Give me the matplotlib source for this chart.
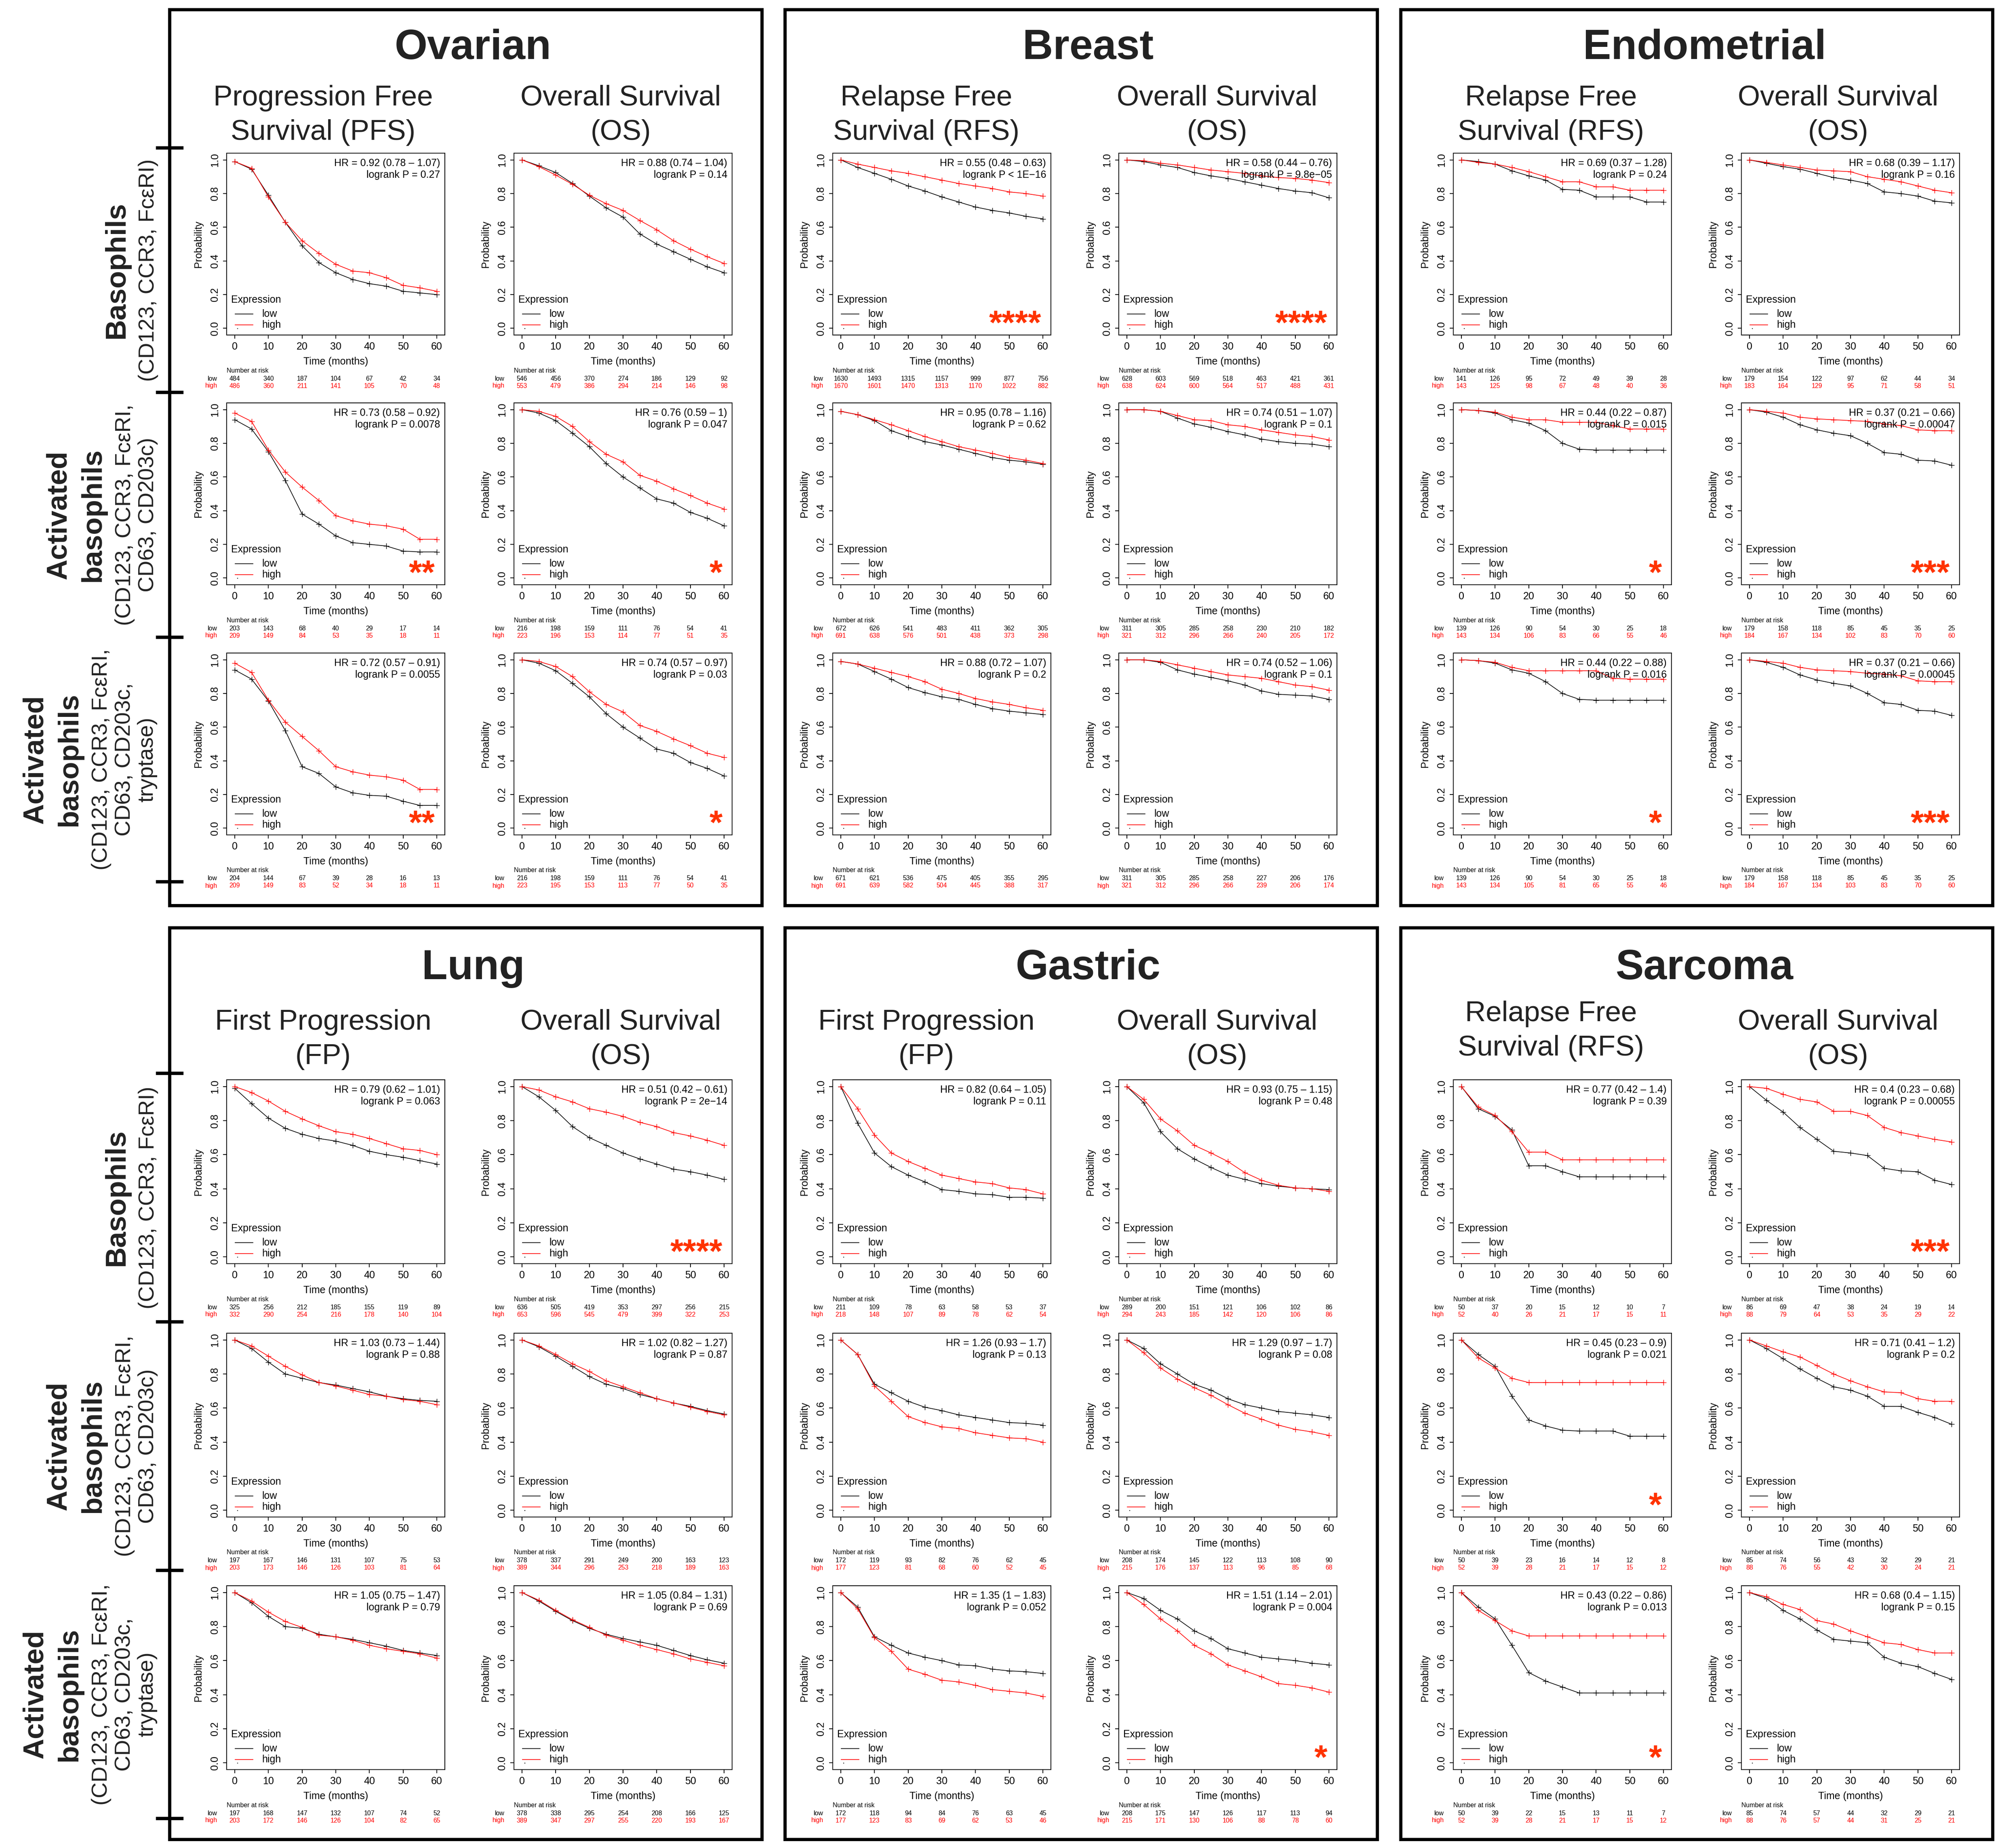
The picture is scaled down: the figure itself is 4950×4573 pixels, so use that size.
import matplotlib
matplotlib.use("Agg")
import matplotlib.pyplot as plt
from matplotlib import transforms
from matplotlib.patches import Rectangle
from matplotlib.lines import Line2D

plt.rcParams["font.family"] = ["Liberation Sans", "DejaVu Sans"]

# ----------------------------------------------------------------- data
MONTHS = [0, 5, 10, 15, 20, 25, 30, 35, 40, 45, 50, 55, 60]
RISK_MONTHS = [0, 10, 20, 30, 40, 50, 60]
Y_TICKS = [0.0, 0.2, 0.4, 0.6, 0.8, 1.0]
X_TICKS = [0, 10, 20, 30, 40, 50, 60]

CANCERS = ["Ovarian", "Breast", "Endometrial", "Lung", "Gastric", "Sarcoma"]
ENDPOINTS = [
    ["Progression Free\nSurvival (PFS)", "Overall Survival\n(OS)"],
    ["Relapse Free\nSurvival (RFS)", "Overall Survival\n(OS)"],
    ["Relapse Free\nSurvival (RFS)", "Overall Survival\n(OS)"],
    ["First Progression\n(FP)", "Overall Survival\n(OS)"],
    ["First Progression\n(FP)", "Overall Survival\n(OS)"],
    ["Relapse Free\nSurvival (RFS)", "Overall Survival\n(OS)"],
]
ROW_LABEL_BOLD = ["Basophils", "Activated\nbasophils", "Activated\nbasophils"]
ROW_LABEL_MARKERS = ["(CD123, CCR3, FcεRI)",
                     "(CD123, CCR3, FcεRI,\nCD63, CD203c)",
                     "(CD123, CCR3, FcεRI,\nCD63, CD203c,\ntryptase)"]

# --- Ovarian PFS
ov_pfs_hr = ["HR = 0.92 (0.78 – 1.07)", "HR = 0.73 (0.58 – 0.92)", "HR = 0.72 (0.57 – 0.91)"]
ov_pfs_p = ["logrank P = 0.27", "logrank P = 0.0078", "logrank P = 0.0055"]
ov_pfs_stars = ["", "**", "**"]
ov_pfs_risk_low = [[484, 340, 187, 104, 67, 42, 34], [203, 143, 68, 40, 29, 17, 14], [204, 144, 67, 39, 28, 16, 13]]
ov_pfs_risk_high = [[486, 360, 211, 141, 105, 70, 48], [209, 149, 84, 53, 35, 18, 11], [209, 149, 83, 52, 34, 18, 11]]
ov_pfs_surv_low = [
    [0.99, 0.945, 0.79, 0.63, 0.49, 0.39, 0.33, 0.29, 0.265, 0.25, 0.22, 0.21, 0.20],
    [0.94, 0.885, 0.75, 0.58, 0.38, 0.32, 0.25, 0.21, 0.20, 0.19, 0.16, 0.155, 0.155],
    [0.94, 0.885, 0.755, 0.58, 0.365, 0.325, 0.245, 0.21, 0.195, 0.19, 0.16, 0.135, 0.135]]
ov_pfs_surv_high = [
    [0.99, 0.95, 0.78, 0.63, 0.52, 0.445, 0.38, 0.34, 0.33, 0.30, 0.255, 0.24, 0.22],
    [0.98, 0.93, 0.76, 0.63, 0.54, 0.46, 0.37, 0.34, 0.32, 0.31, 0.29, 0.23, 0.23],
    [0.98, 0.925, 0.76, 0.63, 0.545, 0.46, 0.365, 0.335, 0.315, 0.305, 0.285, 0.23, 0.23]]

# --- Ovarian OS
ov_os_hr = ["HR = 0.88 (0.74 – 1.04)", "HR = 0.76 (0.59 – 1)", "HR = 0.74 (0.57 – 0.97)"]
ov_os_p = ["logrank P = 0.14", "logrank P = 0.047", "logrank P = 0.03"]
ov_os_stars = ["", "*", "*"]
ov_os_risk_low = [[546, 456, 370, 274, 186, 129, 92], [216, 198, 159, 111, 76, 54, 41], [216, 198, 159, 111, 76, 54, 41]]
ov_os_risk_high = [[553, 479, 386, 294, 214, 146, 98], [223, 196, 153, 114, 77, 51, 35], [223, 195, 153, 113, 77, 50, 35]]
ov_os_surv_low = [
    [1.0, 0.965, 0.925, 0.86, 0.785, 0.715, 0.66, 0.56, 0.50, 0.455, 0.41, 0.365, 0.33],
    [1.0, 0.98, 0.935, 0.86, 0.78, 0.68, 0.60, 0.535, 0.47, 0.445, 0.39, 0.355, 0.31],
    [1.0, 0.98, 0.935, 0.86, 0.78, 0.68, 0.60, 0.535, 0.47, 0.445, 0.39, 0.355, 0.31]]
ov_os_surv_high = [
    [1.0, 0.96, 0.91, 0.855, 0.79, 0.74, 0.70, 0.64, 0.585, 0.52, 0.47, 0.425, 0.385],
    [1.0, 0.99, 0.96, 0.90, 0.81, 0.735, 0.69, 0.61, 0.575, 0.53, 0.49, 0.445, 0.41],
    [1.0, 0.99, 0.96, 0.90, 0.81, 0.735, 0.69, 0.61, 0.575, 0.53, 0.49, 0.445, 0.42]]

# --- Breast RFS
br_rfs_hr = ["HR = 0.55 (0.48 – 0.63)", "HR = 0.95 (0.78 – 1.16)", "HR = 0.88 (0.72 – 1.07)"]
br_rfs_p = ["logrank P < 1E−16", "logrank P = 0.62", "logrank P = 0.2"]
br_rfs_stars = ["****", "", ""]
br_rfs_risk_low = [[1630, 1493, 1315, 1157, 999, 877, 756], [672, 626, 541, 483, 411, 362, 305], [671, 621, 536, 475, 405, 355, 295]]
br_rfs_risk_high = [[1670, 1601, 1470, 1313, 1170, 1022, 882], [691, 638, 576, 501, 438, 373, 298], [691, 639, 582, 504, 445, 388, 317]]
br_rfs_surv_low = [
    [1.0, 0.955, 0.92, 0.885, 0.845, 0.815, 0.78, 0.75, 0.72, 0.70, 0.685, 0.665, 0.65],
    [0.99, 0.97, 0.935, 0.875, 0.84, 0.81, 0.79, 0.765, 0.74, 0.715, 0.70, 0.69, 0.675],
    [0.99, 0.975, 0.93, 0.885, 0.835, 0.805, 0.78, 0.765, 0.735, 0.71, 0.695, 0.685, 0.675]]
br_rfs_surv_high = [
    [1.0, 0.975, 0.955, 0.935, 0.92, 0.90, 0.88, 0.86, 0.845, 0.83, 0.81, 0.80, 0.785],
    [0.99, 0.97, 0.94, 0.91, 0.875, 0.84, 0.81, 0.78, 0.76, 0.74, 0.715, 0.70, 0.68],
    [0.99, 0.975, 0.95, 0.925, 0.90, 0.87, 0.825, 0.80, 0.77, 0.75, 0.735, 0.715, 0.70]]

# --- Breast OS
br_os_hr = ["HR = 0.58 (0.44 – 0.76)", "HR = 0.74 (0.51 – 1.07)", "HR = 0.74 (0.52 – 1.06)"]
br_os_p = ["logrank P = 9.8e−05", "logrank P = 0.1", "logrank P = 0.1"]
br_os_stars = ["****", "", ""]
br_os_risk_low = [[628, 603, 569, 518, 463, 421, 361], [311, 305, 285, 258, 230, 210, 182], [311, 305, 285, 258, 227, 206, 176]]
br_os_risk_high = [[638, 624, 600, 564, 517, 488, 431], [321, 312, 296, 266, 240, 205, 172], [321, 312, 296, 266, 239, 206, 174]]
br_os_surv_low = [
    [1.0, 0.99, 0.97, 0.955, 0.925, 0.905, 0.89, 0.87, 0.85, 0.83, 0.815, 0.805, 0.775],
    [1.0, 1.0, 0.99, 0.95, 0.915, 0.895, 0.87, 0.85, 0.825, 0.81, 0.80, 0.795, 0.78],
    [1.0, 1.0, 0.985, 0.94, 0.915, 0.895, 0.875, 0.85, 0.815, 0.795, 0.79, 0.785, 0.765]]
br_os_surv_high = [
    [1.0, 0.995, 0.98, 0.97, 0.955, 0.94, 0.93, 0.92, 0.905, 0.895, 0.89, 0.88, 0.865],
    [1.0, 1.0, 0.99, 0.965, 0.94, 0.935, 0.91, 0.90, 0.88, 0.865, 0.85, 0.84, 0.82],
    [1.0, 1.0, 0.99, 0.97, 0.95, 0.93, 0.91, 0.90, 0.89, 0.87, 0.85, 0.84, 0.82]]

# --- Endometrial RFS
en_rfs_hr = ["HR = 0.69 (0.37 – 1.28)", "HR = 0.44 (0.22 – 0.87)", "HR = 0.44 (0.22 – 0.88)"]
en_rfs_p = ["logrank P = 0.24", "logrank P = 0.015", "logrank P = 0.016"]
en_rfs_stars = ["", "*", "*"]
en_rfs_risk_low = [[141, 126, 95, 72, 49, 39, 28], [139, 126, 90, 54, 30, 25, 18], [139, 126, 90, 54, 30, 25, 18]]
en_rfs_risk_high = [[143, 125, 98, 67, 48, 40, 36], [143, 134, 106, 83, 66, 55, 46], [143, 134, 105, 81, 65, 55, 46]]
en_rfs_surv_low = [
    [1.0, 0.99, 0.975, 0.935, 0.905, 0.88, 0.825, 0.82, 0.78, 0.78, 0.78, 0.75, 0.75],
    [1.0, 0.995, 0.98, 0.94, 0.92, 0.875, 0.80, 0.765, 0.76, 0.76, 0.76, 0.76, 0.76],
    [1.0, 0.995, 0.98, 0.94, 0.92, 0.87, 0.80, 0.765, 0.76, 0.76, 0.76, 0.76, 0.76]]
en_rfs_surv_high = [
    [1.0, 0.985, 0.975, 0.955, 0.93, 0.90, 0.87, 0.87, 0.84, 0.84, 0.82, 0.82, 0.82],
    [1.0, 0.995, 0.985, 0.955, 0.94, 0.94, 0.925, 0.925, 0.925, 0.905, 0.885, 0.885, 0.885],
    [1.0, 0.995, 0.985, 0.955, 0.935, 0.935, 0.935, 0.935, 0.935, 0.89, 0.885, 0.885, 0.885]]

# --- Endometrial OS
en_os_hr = ["HR = 0.68 (0.39 – 1.17)", "HR = 0.37 (0.21 – 0.66)", "HR = 0.37 (0.21 – 0.66)"]
en_os_p = ["logrank P = 0.16", "logrank P = 0.00047", "logrank P = 0.00045"]
en_os_stars = ["", "***", "***"]
en_os_risk_low = [[179, 154, 122, 97, 62, 44, 34], [179, 158, 118, 85, 45, 35, 25], [179, 158, 118, 85, 45, 35, 25]]
en_os_risk_high = [[183, 164, 129, 95, 71, 58, 51], [184, 167, 134, 102, 83, 70, 60], [184, 167, 134, 103, 83, 70, 60]]
en_os_surv_low = [
    [1.0, 0.98, 0.96, 0.945, 0.92, 0.895, 0.88, 0.86, 0.81, 0.80, 0.785, 0.755, 0.745],
    [1.0, 0.985, 0.955, 0.91, 0.88, 0.86, 0.845, 0.80, 0.745, 0.735, 0.70, 0.695, 0.67],
    [1.0, 0.985, 0.955, 0.91, 0.88, 0.86, 0.845, 0.80, 0.745, 0.735, 0.70, 0.695, 0.67]]
en_os_surv_high = [
    [1.0, 0.985, 0.97, 0.955, 0.94, 0.935, 0.93, 0.90, 0.885, 0.87, 0.845, 0.82, 0.805],
    [1.0, 0.99, 0.98, 0.955, 0.945, 0.94, 0.935, 0.93, 0.915, 0.905, 0.88, 0.875, 0.875],
    [1.0, 0.99, 0.98, 0.955, 0.94, 0.935, 0.93, 0.92, 0.915, 0.905, 0.875, 0.87, 0.87]]

# --- Lung FP
lu_fp_hr = ["HR = 0.79 (0.62 – 1.01)", "HR = 1.03 (0.73 – 1.44)", "HR = 1.05 (0.75 – 1.47)"]
lu_fp_p = ["logrank P = 0.063", "logrank P = 0.88", "logrank P = 0.79"]
lu_fp_stars = ["", "", ""]
lu_fp_risk_low = [[325, 256, 212, 185, 155, 119, 89], [197, 167, 146, 131, 107, 75, 53], [197, 168, 147, 132, 107, 74, 52]]
lu_fp_risk_high = [[332, 290, 254, 216, 178, 140, 104], [203, 173, 146, 126, 103, 81, 64], [203, 172, 146, 126, 104, 82, 65]]
lu_fp_surv_low = [
    [0.99, 0.90, 0.815, 0.755, 0.72, 0.695, 0.68, 0.655, 0.62, 0.60, 0.585, 0.565, 0.545],
    [1.0, 0.95, 0.87, 0.80, 0.775, 0.75, 0.735, 0.715, 0.695, 0.67, 0.655, 0.645, 0.64],
    [1.0, 0.94, 0.86, 0.80, 0.79, 0.755, 0.74, 0.725, 0.705, 0.685, 0.66, 0.645, 0.63]]
lu_fp_surv_high = [
    [1.0, 0.965, 0.915, 0.855, 0.81, 0.77, 0.735, 0.72, 0.695, 0.665, 0.635, 0.625, 0.60],
    [1.0, 0.965, 0.905, 0.845, 0.795, 0.75, 0.73, 0.705, 0.68, 0.67, 0.65, 0.64, 0.62],
    [1.0, 0.95, 0.885, 0.83, 0.795, 0.75, 0.74, 0.72, 0.69, 0.67, 0.655, 0.64, 0.615]]

# --- Lung OS
lu_os_hr = ["HR = 0.51 (0.42 – 0.61)", "HR = 1.02 (0.82 – 1.27)", "HR = 1.05 (0.84 – 1.31)"]
lu_os_p = ["logrank P = 2e−14", "logrank P = 0.87", "logrank P = 0.69"]
lu_os_stars = ["****", "", ""]
lu_os_risk_low = [[636, 505, 419, 353, 297, 256, 215], [378, 337, 291, 249, 200, 163, 123], [378, 338, 295, 254, 208, 166, 125]]
lu_os_risk_high = [[653, 596, 545, 479, 399, 322, 253], [389, 344, 296, 253, 218, 189, 163], [389, 347, 297, 255, 220, 193, 167]]
lu_os_surv_low = [
    [1.0, 0.94, 0.86, 0.765, 0.70, 0.655, 0.61, 0.575, 0.545, 0.515, 0.50, 0.48, 0.455],
    [1.0, 0.96, 0.905, 0.845, 0.785, 0.74, 0.715, 0.68, 0.655, 0.63, 0.61, 0.585, 0.565],
    [1.0, 0.95, 0.89, 0.835, 0.79, 0.755, 0.73, 0.71, 0.69, 0.66, 0.63, 0.605, 0.585]]
lu_os_surv_high = [
    [1.0, 0.98, 0.94, 0.91, 0.87, 0.85, 0.825, 0.79, 0.765, 0.73, 0.71, 0.685, 0.655],
    [1.0, 0.965, 0.915, 0.86, 0.815, 0.76, 0.725, 0.69, 0.655, 0.63, 0.605, 0.58, 0.56],
    [1.0, 0.955, 0.895, 0.84, 0.795, 0.75, 0.72, 0.69, 0.665, 0.64, 0.61, 0.59, 0.57]]

# --- Gastric FP
ga_fp_hr = ["HR = 0.82 (0.64 – 1.05)", "HR = 1.26 (0.93 – 1.7)", "HR = 1.35 (1 – 1.83)"]
ga_fp_p = ["logrank P = 0.11", "logrank P = 0.13", "logrank P = 0.052"]
ga_fp_stars = ["", "", ""]
ga_fp_risk_low = [[211, 109, 78, 63, 58, 53, 37], [172, 119, 93, 82, 76, 62, 45], [172, 118, 94, 84, 76, 63, 45]]
ga_fp_risk_high = [[218, 148, 107, 89, 78, 62, 54], [177, 123, 81, 68, 60, 52, 45], [177, 123, 83, 69, 62, 53, 46]]
ga_fp_surv_low = [
    [1.0, 0.785, 0.61, 0.53, 0.48, 0.44, 0.395, 0.385, 0.37, 0.365, 0.35, 0.35, 0.345],
    [1.0, 0.915, 0.74, 0.69, 0.64, 0.605, 0.585, 0.56, 0.545, 0.53, 0.515, 0.51, 0.50],
    [1.0, 0.915, 0.74, 0.69, 0.645, 0.62, 0.60, 0.575, 0.57, 0.55, 0.54, 0.535, 0.525]]
ga_fp_surv_high = [
    [1.0, 0.87, 0.715, 0.61, 0.56, 0.52, 0.48, 0.46, 0.44, 0.43, 0.405, 0.395, 0.37],
    [1.0, 0.915, 0.73, 0.64, 0.55, 0.515, 0.49, 0.48, 0.455, 0.44, 0.425, 0.42, 0.40],
    [1.0, 0.905, 0.735, 0.655, 0.55, 0.52, 0.485, 0.475, 0.455, 0.43, 0.42, 0.41, 0.39]]

# --- Gastric OS
ga_os_hr = ["HR = 0.93 (0.75 – 1.15)", "HR = 1.29 (0.97 – 1.7)", "HR = 1.51 (1.14 – 2.01)"]
ga_os_p = ["logrank P = 0.48", "logrank P = 0.08", "logrank P = 0.004"]
ga_os_stars = ["", "", "*"]
ga_os_risk_low = [[289, 200, 151, 121, 106, 102, 86], [208, 174, 145, 122, 113, 108, 90], [208, 175, 147, 126, 117, 113, 94]]
ga_os_risk_high = [[294, 243, 185, 142, 120, 106, 86], [215, 176, 137, 113, 96, 85, 68], [215, 171, 130, 106, 88, 78, 60]]
ga_os_surv_low = [
    [1.0, 0.905, 0.735, 0.635, 0.575, 0.525, 0.48, 0.455, 0.43, 0.415, 0.405, 0.40, 0.395],
    [1.0, 0.95, 0.86, 0.80, 0.74, 0.705, 0.655, 0.62, 0.60, 0.58, 0.57, 0.56, 0.545],
    [1.0, 0.965, 0.895, 0.845, 0.775, 0.73, 0.67, 0.645, 0.62, 0.61, 0.60, 0.585, 0.575]]
ga_os_surv_high = [
    [1.0, 0.925, 0.81, 0.74, 0.655, 0.61, 0.56, 0.495, 0.45, 0.42, 0.405, 0.40, 0.385],
    [1.0, 0.925, 0.835, 0.77, 0.72, 0.675, 0.62, 0.57, 0.535, 0.50, 0.475, 0.46, 0.44],
    [1.0, 0.93, 0.845, 0.775, 0.69, 0.64, 0.575, 0.54, 0.505, 0.465, 0.455, 0.44, 0.415]]

# --- Sarcoma RFS
sa_rfs_hr = ["HR = 0.77 (0.42 – 1.4)", "HR = 0.45 (0.23 – 0.9)", "HR = 0.43 (0.22 – 0.86)"]
sa_rfs_p = ["logrank P = 0.39", "logrank P = 0.021", "logrank P = 0.013"]
sa_rfs_stars = ["", "*", "*"]
sa_rfs_risk_low = [[50, 37, 20, 15, 12, 10, 7], [50, 39, 23, 16, 14, 12, 8], [50, 39, 22, 15, 13, 11, 7]]
sa_rfs_risk_high = [[52, 40, 26, 21, 17, 15, 11], [52, 39, 28, 21, 17, 15, 12], [52, 39, 28, 21, 17, 15, 12]]
sa_rfs_surv_low = [
    [1.0, 0.87, 0.825, 0.745, 0.535, 0.535, 0.50, 0.47, 0.47, 0.47, 0.47, 0.47, 0.47],
    [1.0, 0.915, 0.845, 0.67, 0.53, 0.495, 0.47, 0.465, 0.465, 0.465, 0.435, 0.435, 0.435],
    [1.0, 0.915, 0.845, 0.69, 0.53, 0.48, 0.445, 0.41, 0.41, 0.41, 0.41, 0.41, 0.41]]
sa_rfs_surv_high = [
    [1.0, 0.88, 0.83, 0.735, 0.615, 0.615, 0.57, 0.57, 0.57, 0.57, 0.57, 0.57, 0.57],
    [1.0, 0.895, 0.835, 0.775, 0.75, 0.75, 0.75, 0.75, 0.75, 0.75, 0.75, 0.75, 0.75],
    [1.0, 0.895, 0.835, 0.775, 0.745, 0.745, 0.745, 0.745, 0.745, 0.745, 0.745, 0.745, 0.745]]

# --- Sarcoma OS
sa_os_hr = ["HR = 0.4 (0.23 – 0.68)", "HR = 0.71 (0.41 – 1.2)", "HR = 0.68 (0.4 – 1.15)"]
sa_os_p = ["logrank P = 0.00055", "logrank P = 0.2", "logrank P = 0.15"]
sa_os_stars = ["***", "", ""]
sa_os_risk_low = [[86, 69, 47, 38, 24, 19, 14], [85, 74, 56, 43, 32, 29, 21], [85, 74, 57, 44, 32, 29, 21]]
sa_os_risk_high = [[88, 79, 64, 53, 35, 29, 22], [88, 76, 55, 42, 30, 24, 21], [88, 76, 57, 44, 31, 25, 21]]
sa_os_surv_low = [
    [1.0, 0.92, 0.85, 0.76, 0.69, 0.62, 0.61, 0.595, 0.52, 0.505, 0.50, 0.45, 0.425],
    [1.0, 0.95, 0.89, 0.83, 0.775, 0.725, 0.705, 0.67, 0.61, 0.61, 0.575, 0.545, 0.505],
    [1.0, 0.965, 0.895, 0.845, 0.78, 0.725, 0.715, 0.705, 0.62, 0.585, 0.565, 0.525, 0.49]]
sa_os_surv_high = [
    [1.0, 0.99, 0.955, 0.925, 0.91, 0.855, 0.855, 0.83, 0.76, 0.73, 0.71, 0.69, 0.675],
    [1.0, 0.965, 0.93, 0.90, 0.85, 0.80, 0.76, 0.725, 0.695, 0.69, 0.655, 0.64, 0.64],
    [1.0, 0.975, 0.93, 0.90, 0.835, 0.815, 0.775, 0.74, 0.705, 0.695, 0.665, 0.645, 0.645]]

SERIES = {
    (0, 0): (ov_pfs_hr, ov_pfs_p, ov_pfs_stars, ov_pfs_risk_low, ov_pfs_risk_high, ov_pfs_surv_low, ov_pfs_surv_high),
    (0, 1): (ov_os_hr, ov_os_p, ov_os_stars, ov_os_risk_low, ov_os_risk_high, ov_os_surv_low, ov_os_surv_high),
    (1, 0): (br_rfs_hr, br_rfs_p, br_rfs_stars, br_rfs_risk_low, br_rfs_risk_high, br_rfs_surv_low, br_rfs_surv_high),
    (1, 1): (br_os_hr, br_os_p, br_os_stars, br_os_risk_low, br_os_risk_high, br_os_surv_low, br_os_surv_high),
    (2, 0): (en_rfs_hr, en_rfs_p, en_rfs_stars, en_rfs_risk_low, en_rfs_risk_high, en_rfs_surv_low, en_rfs_surv_high),
    (2, 1): (en_os_hr, en_os_p, en_os_stars, en_os_risk_low, en_os_risk_high, en_os_surv_low, en_os_surv_high),
    (3, 0): (lu_fp_hr, lu_fp_p, lu_fp_stars, lu_fp_risk_low, lu_fp_risk_high, lu_fp_surv_low, lu_fp_surv_high),
    (3, 1): (lu_os_hr, lu_os_p, lu_os_stars, lu_os_risk_low, lu_os_risk_high, lu_os_surv_low, lu_os_surv_high),
    (4, 0): (ga_fp_hr, ga_fp_p, ga_fp_stars, ga_fp_risk_low, ga_fp_risk_high, ga_fp_surv_low, ga_fp_surv_high),
    (4, 1): (ga_os_hr, ga_os_p, ga_os_stars, ga_os_risk_low, ga_os_risk_high, ga_os_surv_low, ga_os_surv_high),
    (5, 0): (sa_rfs_hr, sa_rfs_p, sa_rfs_stars, sa_rfs_risk_low, sa_rfs_risk_high, sa_rfs_surv_low, sa_rfs_surv_high),
    (5, 1): (sa_os_hr, sa_os_p, sa_os_stars, sa_os_risk_low, sa_os_risk_high, sa_os_surv_low, sa_os_surv_high),
}

# ----------------------------------------------------------------- layout (pixels)
W, H, DPI = 4950, 4573, 300
BOX_X = [(420, 1886), (1943, 3409), (3467, 4932)]
BOX_Y = [(24, 2241), (2296, 4552)]
AX_X = [(561, 1272), (2061, 2769), (3597, 4310)]
AX_W = 540
AX_TOPS = [(379, 997, 1616), (2672, 3299, 3924)]
AX_H = [450, 455]
TITLE_X = [1171, 2693, 4219]
TITLE_Y = [109, 2386]
SUB_X = [(800, 1536), (2293, 3012), (3839, 4549)]
SUB_Y = [236, 2523]          # centre of the first subtitle line
SUB_Y_RAISED = 2502
BRACKET_Y = [(366, 971, 1577, 2182), (2656, 3271, 3886, 4500)]
LABEL_LAST_X = 362.0          # centre of the rightmost label line
BOLD_TO_MARK = 79.0
MARK_GAP = 58.0
BOLD_GAP = 86.0

DARK = "#222222"
RED = "#FF0000"
STAR = "#FF3300"
FS = 6.0
FS_RISK = 3.8
FS_STAR = 20
LW = 0.4
PX = 72.0 / DPI   # points per pixel
EM = DPI / 72.0   # pixels per point
CAP_MID = 0.358   # cap-height centre above baseline (em)
ASC = 0.73        # ascent used by matplotlib line layout (em)
DESC = 0.212      # descent (em)


def fx(px):
    return px / W


def fy(py):
    return 1.0 - py / H


def spacing(gap_px, size_pt):
    """matplotlib linespacing giving a baseline-to-baseline gap of gap_px."""
    return (gap_px / (size_pt * EM) - DESC) / ASC


fig = plt.figure(figsize=(W / DPI, H / DPI), dpi=DPI)
fig.patch.set_facecolor("white")


def km_panel(ax, aw, ah, hr, p, stars, rlow, rhigh, slow, shigh):
    ax.set_xlim(-2.4, 62.4)
    ax.set_ylim(-0.04, 1.04)
    ax.plot(MONTHS, slow, color="black", lw=LW, marker="+", ms=3.2, mew=0.35)
    ax.plot(MONTHS, shigh, color=RED, lw=LW, marker="+", ms=3.2, mew=0.35)
    for s in ax.spines.values():
        s.set_linewidth(0.45)
    ax.set_xticks(X_TICKS)
    ax.set_yticks(Y_TICKS)
    ax.set_yticklabels(["%.1f" % v for v in Y_TICKS])
    ax.tick_params(direction="out", length=9 * PX, width=0.45, labelsize=FS, pad=2.0)
    ax.tick_params(axis="y", labelrotation=90)
    for lbl in ax.get_yticklabels():
        lbl.set_verticalalignment("center")
    ax.set_xlabel("Time (months)", fontsize=FS)
    ax.xaxis.set_label_coords(0.5, -66.0 / ah)
    ax.xaxis.label.set_verticalalignment("center")
    ax.set_ylabel("Probability", fontsize=FS)
    ax.yaxis.set_label_coords(-70.0 / aw, 0.5)
    ax.yaxis.label.set_verticalalignment("center")
    ta = ax.transAxes
    ax.text(1 - 12.0 / aw, 1 - 25.0 / ah, hr, transform=ta, ha="right", va="center", fontsize=FS)
    ax.text(1 - 12.0 / aw, 1 - 54.0 / ah, p, transform=ta, ha="right", va="center", fontsize=FS)
    # legend
    ax.text(11.0 / aw, 87.0 / ah, "Expression", transform=ta, ha="left", va="center", fontsize=FS)
    ax.plot([21.0 / aw, 65.0 / aw], [52.0 / ah, 52.0 / ah], transform=ta, color="black", lw=LW)
    ax.plot([21.0 / aw, 65.0 / aw], [25.0 / ah, 25.0 / ah], transform=ta, color=RED, lw=LW)
    ax.text(87.0 / aw, 52.0 / ah, "low", transform=ta, ha="left", va="center", fontsize=FS)
    ax.text(87.0 / aw, 25.0 / ah, "high", transform=ta, ha="left", va="center", fontsize=FS)
    ax.plot([27.0 / aw], [16.0 / ah], transform=ta, color="black", marker="s", ms=0.6, mew=0, ls="none")
    if stars:
        # baseline just above the frame so the text box clears the tick labels
        ax.text(1 - 24.0 / aw, 2.0 / ah, stars, transform=ta, ha="right",
                va="baseline", fontsize=FS_STAR, fontweight="bold", color=STAR)
    # numbers at risk
    tb = transforms.blended_transform_factory(ax.transData, ta)
    ax.text(0, -88.0 / ah, "Number at risk", transform=ta, ha="left", va="center", fontsize=FS_RISK)
    ax.text(-23.0 / aw, -108.0 / ah, "low", transform=ta, ha="right", va="center", fontsize=FS_RISK)
    ax.text(-23.0 / aw, -126.0 / ah, "high", transform=ta, ha="right", va="center",
            fontsize=FS_RISK, color=RED)
    for t, nl, nh in zip(RISK_MONTHS, rlow, rhigh):
        ax.text(t, -108.0 / ah, str(nl), transform=tb, ha="center", va="center", fontsize=FS_RISK)
        ax.text(t, -126.0 / ah, str(nh), transform=tb, ha="center", va="center",
                fontsize=FS_RISK, color=RED)


for ci, cancer in enumerate(CANCERS):
    blk = ci // 3
    col = ci % 3
    x0, x1 = BOX_X[col]
    y0, y1 = BOX_Y[blk]
    fig.add_artist(Rectangle((fx(x0), fy(y1)), (x1 - x0) / W, (y1 - y0) / H, fill=False,
                             lw=1.9, edgecolor="black", transform=fig.transFigure))
    fig.text(fx(TITLE_X[col]), fy(TITLE_Y[blk] + CAP_MID * 25 * EM), cancer, ha="center",
             va="baseline", fontsize=25, fontweight="bold", color=DARK)
    for ei in range(2):
        sy = SUB_Y[blk]
        if cancer == "Sarcoma" and ei == 0:
            sy = SUB_Y_RAISED
        fig.text(fx(SUB_X[col][ei]), fy(sy - (ASC - CAP_MID) * 17 * EM), ENDPOINTS[ci][ei],
                 ha="center", va="top", multialignment="center",
                 linespacing=spacing(86.0, 17), fontsize=17, color=DARK)
        hr, p, stars, rlow, rhigh, slow, shigh = SERIES[(ci, ei)]
        for ri in range(3):
            top = AX_TOPS[blk][ri]
            ah = AX_H[blk]
            left = AX_X[col][ei]
            ax = fig.add_axes([fx(left), fy(top + ah), AX_W / W, ah / H])
            km_panel(ax, AX_W, ah, hr[ri], p[ri], stars[ri], rlow[ri], rhigh[ri], slow[ri], shigh[ri])

# left brackets and row labels
for blk in range(2):
    ys = BRACKET_Y[blk]
    for yb in ys:
        fig.add_artist(Line2D([fx(390), fx(450)], [fy(yb), fy(yb)], lw=2.0, color="black"))
    for ri in range(3):
        yc = 0.5 * (ys[ri] + ys[ri + 1])
        n_mark = ROW_LABEL_MARKERS[ri].count("\n") + 1
        n_bold = ROW_LABEL_BOLD[ri].count("\n") + 1
        mark_first = LABEL_LAST_X - MARK_GAP * (n_mark - 1)
        bold_first = mark_first - BOLD_TO_MARK - BOLD_GAP * (n_bold - 1)
        fig.text(fx(mark_first - (ASC - CAP_MID) * 13 * EM), fy(yc), ROW_LABEL_MARKERS[ri],
                 rotation=90, ha="left", va="center", multialignment="center",
                 linespacing=spacing(MARK_GAP, 13), fontsize=13, color=DARK)
        fig.text(fx(bold_first - (ASC - CAP_MID) * 17 * EM), fy(yc), ROW_LABEL_BOLD[ri],
                 rotation=90, ha="left", va="center", multialignment="center",
                 linespacing=spacing(BOLD_GAP, 17), fontsize=17, fontweight="bold", color=DARK)

fig.savefig("out.png", dpi=DPI, facecolor="white")
